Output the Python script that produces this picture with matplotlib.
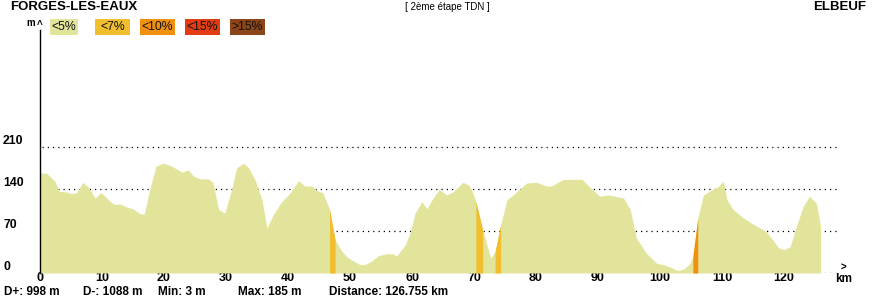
import matplotlib.pyplot as plt
import numpy as np

plt.rcParams['font.family'] = ['Liberation Sans', 'DejaVu Sans']

# profile (km, m)
km = [0, 1.1, 2.4, 3.1, 4.3, 5.1, 5.9, 6.9, 7.8, 8.9, 9.8, 10.5, 11.3, 12.1,
      12.9, 14.0, 15.0, 16.1, 16.8, 17.7, 18.7, 19.9, 21.1, 22.9, 23.9, 24.8,
      25.8, 27.1, 27.9, 28.8, 29.8, 30.9, 31.7, 32.8, 33.6, 34.7, 35.8, 36.6,
      37.6, 39.0, 40.3, 41.7, 42.7, 43.8, 44.9, 45.6, 46.7, 47.6, 48.7, 49.7,
      51.6, 52.4, 53.5, 54.6, 55.9, 57.0, 57.5, 58.9, 59.7, 60.5, 61.6, 62.4,
      63.4, 64.4, 65.6, 66.7, 68.2, 69.1, 69.6, 70.3, 71.4, 72.7, 73.4, 74.3,
      75.3, 76.3, 78.5, 80.1, 81.7, 82.5, 84.4, 87.4, 89.2, 90.3, 91.7, 92.7,
      94.1, 95.2, 96.2, 97.8, 99.5, 100.5, 101.6, 102.9, 103.9, 104.8, 105.3,
      106.1, 107.0, 108.6, 109.4, 110.2, 110.8, 111.8, 113.4, 115.1, 117.0,
      118.0, 119.1, 120.0, 121.0, 122.0, 123.1, 124.1, 125.2, 125.9]
elev = [167, 166, 153, 136, 135, 132, 134, 151, 143, 125, 134, 128, 119, 114,
        115, 110, 107, 99, 98, 139, 178, 183, 179, 168, 172, 161,
        157, 157, 151, 106, 100, 139, 175, 183, 176, 155, 122, 75,
        97, 119, 133, 154, 145, 145, 136, 134, 106, 55, 36, 25,
        14, 14, 20, 29, 32, 32, 28, 47, 67, 100, 119, 107,
        125, 139, 130, 136, 151, 147, 139, 119, 72, 25, 36, 80,
        122, 130, 150, 151, 145, 145, 156, 156, 138, 128, 130, 128,
        125, 106, 58, 33, 16, 14, 10, 4, 7, 16, 28,
        92, 130, 140, 144, 153, 122, 106, 92, 81, 70,
        58, 42, 39, 44, 78, 111, 128, 117, 78]

# steep sections: start km, end km, slope class
steep_start = [46.7, 70.3, 73.4, 105.3]
steep_end = [47.6, 71.4, 74.3, 106.1]
steep_class = [1, 1, 1, 2]

classes = ['<5%', '<7%', '<10%', '<15%', '>15%']
class_colors = ['#e3e49c', '#f1be2f', '#f0900f', '#e43c12', '#8c4518']

grid_levels = [0, 70, 140, 210]
xticks = list(range(0, 121, 10))

fig = plt.figure(figsize=(8.8, 3.0), dpi=100)
ax = fig.add_axes([40 / 880, 27 / 300, 805 / 880, 243 / 300])
ax.set_xlim(0, 805 / 6.2)
ax.set_ylim(0, 243 / 0.6)

km_a = np.array(km)
elev_a = np.array(elev)

ax.hlines(grid_levels, 0.3, 129, colors='black', linestyles=(0, (1, 3.2)),
          lw=0.9, zorder=1)
ax.fill_between(km_a, 0, elev_a, color=class_colors[0], lw=0, zorder=2)
for s, e, c in zip(steep_start, steep_end, steep_class):
    m = (km_a >= s) & (km_a <= e)
    ax.fill_between(km_a[m], 0, elev_a[m], color=class_colors[c], lw=0, zorder=3)

for side in ['top', 'right', 'bottom']:
    ax.spines[side].set_visible(False)
ax.spines['left'].set_linewidth(1.0)
ax.spines['left'].set_zorder(4)

ax.set_xticks(xticks)
ax.set_xticklabels([str(t) for t in xticks], fontsize=9, fontweight='bold')
ax.tick_params(axis='x', length=0, pad=-1)
ax.set_yticks([])
for lv in grid_levels:
    ax.text(-37 / 6.2, lv, str(lv), fontsize=8.8, fontweight='bold',
            ha='left', va='bottom')

ax.text(129.6, 1, '>', fontsize=7, fontweight='bold', ha='center', va='bottom')
ax.text(129.6, 0, 'km', fontsize=8.5, fontweight='bold', ha='center', va='top')
fig.text(26 / 880, 1 - 26 / 300, 'm', fontsize=7, fontweight='bold',
         ha='left', va='baseline')
fig.text(40 / 880, 1 - 28 / 300, '^', fontsize=7, fontweight='bold',
         ha='center', va='baseline')

# legend boxes
box_x = [50, 95, 140, 185, 230]
box_w = [28, 35, 35, 35, 35]
for x0, w, lab, col in zip(box_x, box_w, classes, class_colors):
    fig.patches.append(plt.Rectangle((x0 / 880, 1 - 35 / 300), w / 880, 16 / 300,
                                     transform=fig.transFigure, color=col, lw=0))
    fig.text((x0 + w / 2) / 880, 1 - 27.5 / 300, lab, fontsize=8.8,
             ha='center', va='center', color='#111111')

fig.text(10 / 880, 1 - 7 / 300, 'FORGES-LES-EAUX', fontsize=9.5,
         fontweight='bold', ha='left', va='center')
fig.text(447 / 880, 1 - 7 / 300, '[ 2ème étape TDN ]', fontsize=7,
         ha='center', va='center')
fig.text(866 / 880, 1 - 7 / 300, 'ELBEUF', fontsize=9.5, fontweight='bold',
         ha='right', va='center')

stats = ['D+: 998 m', 'D-: 1088 m', 'Min: 3 m', 'Max: 185 m',
         'Distance: 126.755 km']
stats_x = [4, 83, 158, 238, 329]
for sx, st in zip(stats_x, stats):
    fig.text(sx / 880, 1 - 292 / 300, st, fontsize=8.5, fontweight='bold',
             ha='left', va='center')

fig.savefig('out.png', dpi=100)
